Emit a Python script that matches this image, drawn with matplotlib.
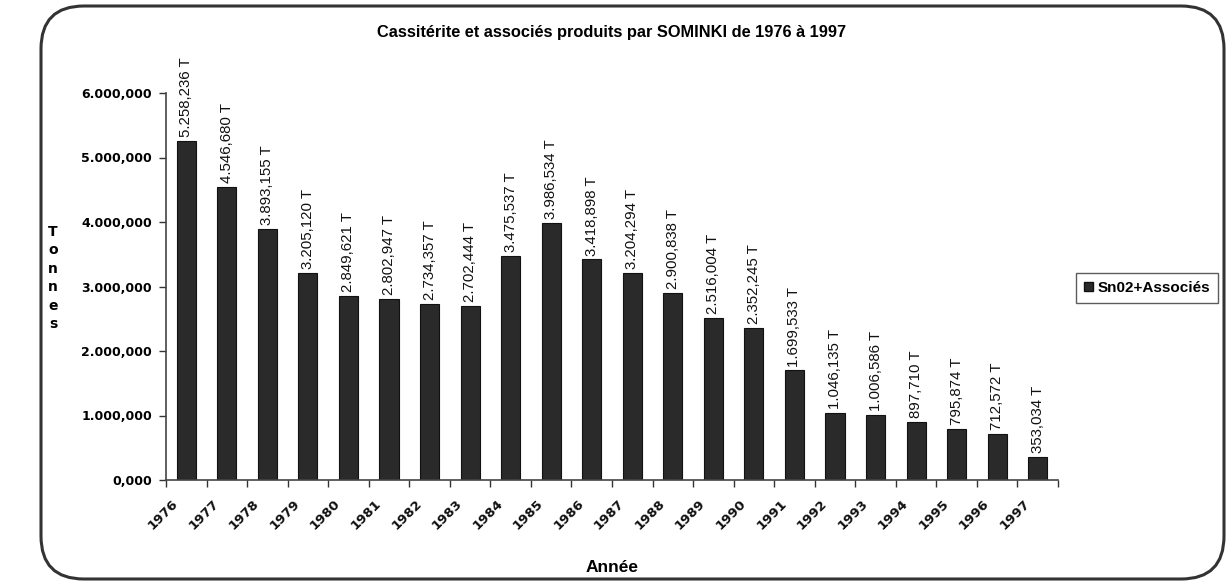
import matplotlib
matplotlib.use("Agg")
import matplotlib.pyplot as plt
from matplotlib.patches import FancyBboxPatch, Patch

# data (tonnes)
years = [str(y) for y in range(1976, 1998)]
tonnes = [5258.236, 4546.680, 3893.155, 3205.120, 2849.621, 2802.947, 2734.357,
          2702.444, 3475.537, 3986.534, 3418.898, 3204.294, 2900.838, 2516.004,
          2352.245, 1699.533, 1046.135, 1006.586, 897.710, 795.874, 712.572, 353.034]
yticks = [0, 1000, 2000, 3000, 4000, 5000, 6000]
title = "Cassitérite et associés produits par SOMINKI de 1976 à 1997"
series_name = "Sn02+Associés"


def fr_format(v):
    # 5258.236 -> "5.258,236"
    s = "{:,.3f}".format(v)
    return s.replace(",", " ").replace(".", ",").replace(" ", ".")


plt.rcParams["font.family"] = ["Liberation Sans", "DejaVu Sans"]
heavy = "DejaVu Sans"

fig = plt.figure(figsize=(12.28, 5.85), dpi=100)
W, H = 1228, 585

# rounded frame round the whole chart
frame = FancyBboxPatch((41 / W, 6 / H), (1183 / W), (573 / H),
                       boxstyle="round,pad=0,rounding_size=0.035",
                       transform=fig.transFigure, facecolor="white",
                       edgecolor="#333333", linewidth=2.2, mutation_aspect=W / H,
                       zorder=-5)
fig.patches.append(frame)

ax = fig.add_axes([166 / W, 1 - 480 / H, (1058 - 166) / W, (480 - 93) / H])
ax.set_facecolor("none")
ax.set_zorder(2)

x = list(range(len(years)))
bars = ax.bar(x, tonnes, width=0.47, color="#2a2a2a", edgecolor="#111111", linewidth=0.8)

for xi, v in zip(x, tonnes):
    ax.text(xi, v + 60, fr_format(v) + " T", rotation=90, ha="center", va="bottom",
            fontsize=10.8, color="#111111")

ax.set_xlim(-0.5, len(years) - 0.5)
ax.set_ylim(0, 6000)

# ticks at category boundaries
ax.set_xticks([i - 0.5 for i in range(len(years) + 1)])
ax.set_xticklabels([])
ax.tick_params(axis="x", direction="out", length=5, width=1, color="#333333")
for xi, lab in zip(x, years):
    ax.text(xi - 0.36, -270, lab, rotation=45, ha="right", va="top",
            rotation_mode="anchor", fontsize=9.5, fontweight="bold", color="#111111",
            family=heavy)

ax.set_yticks(yticks)
ax.set_yticklabels([fr_format(t) for t in yticks], fontsize=9, fontweight="bold",
                   family=heavy)
ax.tick_params(axis="y", direction="out", length=5, width=1, color="#333333", pad=5)

for side in ["top", "right"]:
    ax.spines[side].set_visible(False)
for side in ["left", "bottom"]:
    ax.spines[side].set_color("#444444")
    ax.spines[side].set_linewidth(1.2)

fig.text(612 / W, 1 - 32 / H, title, ha="center", va="center", fontsize=11.8, fontweight="bold")
fig.text(612 / W, 1 - 568 / H, "Année", ha="center", va="center", fontsize=12.5, fontweight="bold")
fig.text(53 / W, 1 - 278 / H, "T\no\nn\nn\ne\ns", ha="center", va="center",
         fontsize=10, fontweight="bold", linespacing=1.4, family=heavy)

leg = fig.legend(handles=[Patch(facecolor="#2a2a2a", edgecolor="#111111", label=series_name)],
                 loc="center", bbox_to_anchor=(1147 / W, 1 - 288 / H), frameon=True,
                 fancybox=False, edgecolor="#333333", handlelength=0.6, handleheight=0.6,
                 handletextpad=0.3, borderpad=0.5, prop={"weight": "bold", "size": 11})
leg.get_frame().set_linewidth(1.0)

fig.savefig("out.png", dpi=100)
